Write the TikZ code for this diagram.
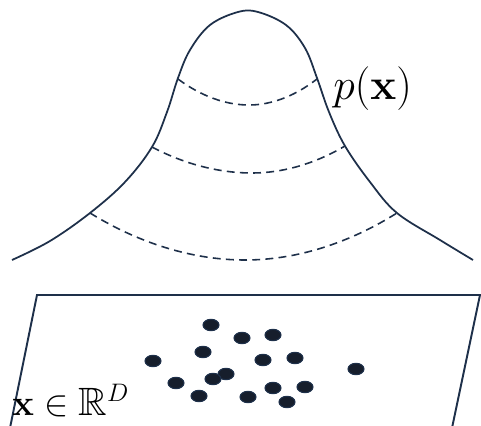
\documentclass[tikz,border=0pt]{standalone}
\usepackage{amsmath, amssymb}
\usepackage{tikz}
\usetikzlibrary{calc, positioning}
\usepackage{xcolor}
\definecolor{inkA}{RGB}{30, 48, 74}
\definecolor{dotA}{RGB}{22, 30, 44}
\tikzset{
  density/.style={line width=1pt, inkA, line join=round},
  level/.style={line width=0.9pt, inkA, dash pattern=on 4.5pt off 3pt},
  plane/.style={line width=1.1pt, inkA},
  sample/.style={fill=dotA, draw=inkA, line width=0.6pt},
  bigmath/.style={inner sep=0pt, font=\fontsize{23}{27}\selectfont}
}

\begin{document}
\begin{tikzpicture}[x=0.02cm, y=-0.02cm]
  % frame with the reference proportions
  \useasboundingbox (0,0) rectangle (481,426);

  % Density bump p(x)
  \draw[density] plot[smooth, tension=0.6] coordinates {
    (12,260) (50,241) (90,213) (125,182) (152,147) (167,112) (178,78)
    (190,50) (210,25) (238,12) (258,12) (286,25) (305,48)
    (317,78) (329,112) (345,146) (370,182) (397,213) (440,240) (473,260)};

  % Level sets
  \draw[level] (178,79) parabola bend (249,105) (317,79);
  \draw[level] (152,147) parabola bend (252,173) (345,146);
  \draw[level] (90,213) parabola bend (245,260) (397,213);

  \node[bigmath, anchor=west] (px) at (333,89) {$p(\mathbf{x})$};

  % Input space
  \coordinate (tl) at (37,295);
  \coordinate (tr) at (480,295);
  \coordinate (bl) at (10,428);
  \coordinate (br) at (452,428);
  \draw[plane] (bl) -- (tl) -- (tr) -- (br);

  % Samples
  \foreach \sx/\sy in {211/325, 242/338, 273/335, 203/352, 153/361,
      263/360, 295/358, 356/369, 226/374, 213/379, 176/383, 305/387,
      273/388, 199/396, 248/397, 287/402}
    \draw[sample] (\sx,\sy) ellipse (8 and 5.7);

  \node[bigmath, anchor=base west, font=\fontsize{22.5}{27}\selectfont]
    (space) at (12,415) {$\mathbf{x} \in \mathbb{R}^D$};
\end{tikzpicture}
\end{document}
